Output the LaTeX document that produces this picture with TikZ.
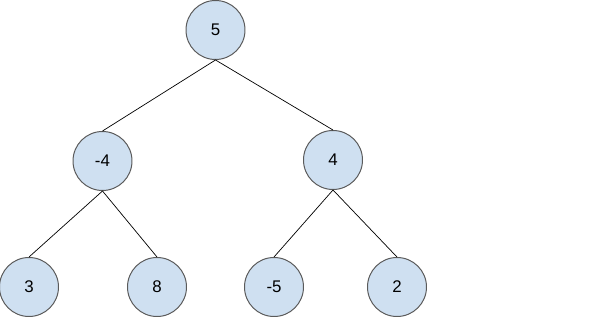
\documentclass[tikz,border=0pt]{standalone}
\usepackage{fontspec}
\setmainfont{Liberation Sans}
\usepackage{xcolor}
\definecolor{nodeblue}{RGB}{207,224,241}
\definecolor{rimgray}{RGB}{90,90,90}
\tikzset{
  treenode/.style={circle, draw=rimgray, fill=nodeblue, line width=0.7pt,
    minimum size=59*0.025cm, inner sep=0pt, font=\fontsize{12}{14}\selectfont},
  branch/.style={line width=0.5pt, black}
}

\begin{document}
\begin{tikzpicture}[x=0.025cm, y=-0.025cm]
  \useasboundingbox (0,0) rectangle (600,320);
  % Root
  \node[treenode] (r5) at (215.5,30) {5};
  % Second level
  \node[treenode] (l4) at (102.5,161) {-4};
  \node[treenode] (r4) at (333,160) {4};
  % Leaves
  \node[treenode] (ll3) at (29,287) {3};
  \node[treenode] (lr8) at (157,287) {8};
  \node[treenode] (rl5) at (274,287) {-5};
  \node[treenode] (rr2) at (397,287) {2};
  % Branches
  \draw[branch] (r5.south) -- (l4.north);
  \draw[branch] (r5.south) -- (r4.north);
  \draw[branch] (l4.south) -- (ll3.north);
  \draw[branch] (l4.south) -- (lr8.north);
  \draw[branch] (r4.south) -- (rl5.north);
  \draw[branch] (r4.south) -- (rr2.north);
\end{tikzpicture}
\end{document}
